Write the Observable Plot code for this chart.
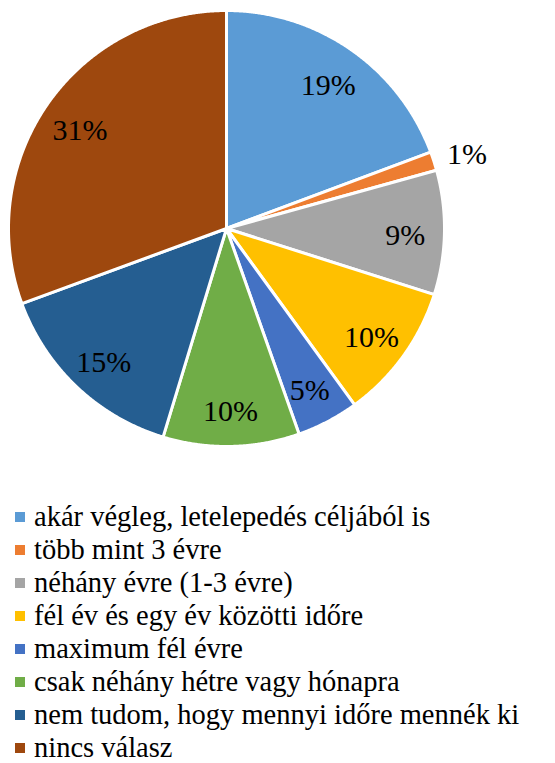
<!DOCTYPE html>
<html>
<head>
<meta charset="utf-8">
<script src="https://cdn.jsdelivr.net/npm/d3@7"></script>
<script src="https://cdn.jsdelivr.net/npm/@observablehq/plot@0.6"></script>
</head>
<body style="margin:0;background:#fff">
<div id="chart"></div>
<div id="legend" style="font-family:'Liberation Serif','Times New Roman',serif;font-size:28.5px;color:#000;padding:40px 0 0 15px"></div>
<script>
const categories = [
  "akár végleg, letelepedés céljából is",
  "több mint 3 évre",
  "néhány évre (1-3 évre)",
  "fél év és egy év közötti időre",
  "maximum fél évre",
  "csak néhány hétre vagy hónapra",
  "nem tudom, hogy mennyi időre mennék ki",
  "nincs válasz"
];
const values = [19.3, 1.4, 9.2, 10.1, 4.6, 10.1, 14.7, 30.6];
const labels = ["19%", "1%", "9%", "10%", "5%", "10%", "15%", "31%"];
const colors = ["#5B9BD5", "#ED7D31", "#A5A5A5", "#FFC000", "#4472C4", "#70AD47", "#255E91", "#9E480E"];

const W = 555, H = 460, cx = 226, cy = 228, R = 218;

const arcs = d3.pie().sort(null).startAngle(0).endAngle(2 * Math.PI)(values);
const pts = [];
arcs.forEach((a, i) => {
  pts.push({k: i, x: 0, y: 0});
  const n = Math.max(2, Math.ceil((a.endAngle - a.startAngle) / 0.005));
  for (let j = 0; j <= n; j++) {
    const t = a.startAngle + (a.endAngle - a.startAngle) * j / n;
    pts.push({k: i, x: Math.sin(t), y: Math.cos(t)});
  }
  pts.push({k: i, x: 0, y: 0});
});
const lab = arcs.map((a, i) => {
  const m = (a.startAngle + a.endAngle) / 2;
  const r = values[i] < 3 ? 1.16 : 0.82;
  return {x: r * Math.sin(m), y: r * Math.cos(m), t: labels[i]};
});

const chart = Plot.plot({
  width: W, height: H,
  margin: 0,
  x: {domain: [-cx / R, (W - cx) / R], range: [0, W], axis: null},
  y: {domain: [-(H - cy) / R, cy / R], range: [H, 0], axis: null},
  style: {background: "#fff", fontFamily: "Liberation Serif"},
  marks: [
    Plot.line(pts, {x: "x", y: "y", z: "k", fill: d => colors[d.k], stroke: "#fff", strokeWidth: 3, strokeLinejoin: "round", curve: "linear"}),
    Plot.text(lab, {x: "x", y: "y", text: "t", dy: 4, fontSize: 30, fontFamily: "Liberation Serif", fill: "#000"})
  ]
});
document.getElementById("chart").appendChild(chart);

const leg = document.getElementById("legend");
categories.forEach((c, i) => {
  const row = document.createElement("div");
  row.style.cssText = "display:flex;align-items:center;height:33px;white-space:nowrap";
  const sw = document.createElement("span");
  sw.style.cssText = "width:10px;height:10px;margin-right:9px;flex:none;background:" + colors[i];
  const tx = document.createElement("span");
  tx.textContent = c;
  row.appendChild(sw); row.appendChild(tx);
  leg.appendChild(row);
});
</script>
</body>
</html>
